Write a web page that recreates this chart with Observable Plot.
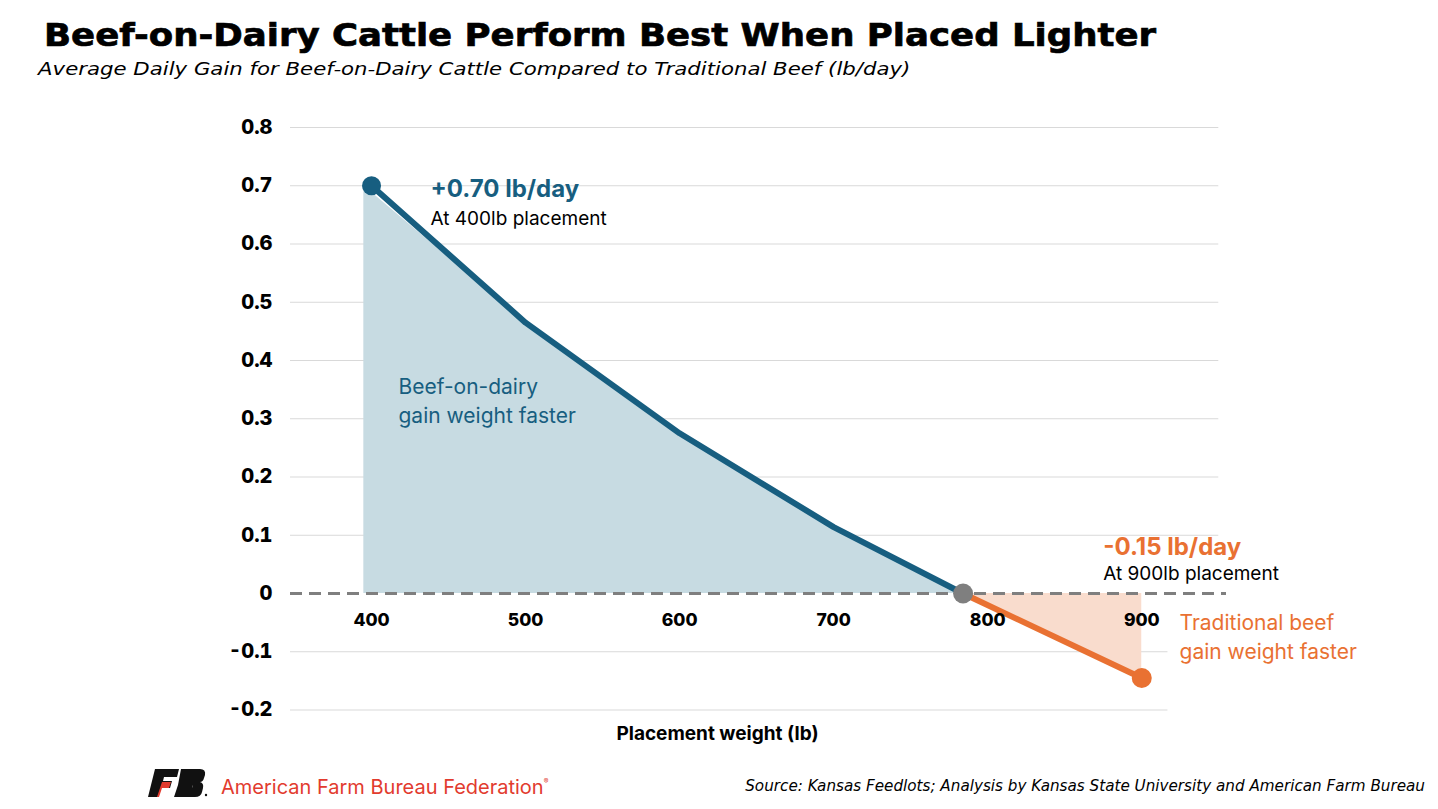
<!DOCTYPE html>
<html>
<head>
<meta charset="utf-8">
<script src="https://cdn.jsdelivr.net/npm/d3@7"></script>
<script src="https://cdn.jsdelivr.net/npm/@observablehq/plot@0.6"></script>
<style>
  body { margin:0; width:1438px; height:809px; overflow:hidden; background:#fff; font-family: Inter, "DejaVu Sans", sans-serif; }
  #head { position:relative; height:100px; }
  #title { position:absolute; left:44px; top:17px; font: bold 32px/36px "DejaVu Sans"; color:#000; white-space:nowrap; transform: scaleX(1.11); transform-origin: left top; -webkit-text-stroke: 0.7px #000; }
  #subtitle { position:absolute; left:38px; top:59px; font: oblique 17.5px "DejaVu Sans"; color:#000; white-space:nowrap; transform: scaleX(1.215); transform-origin: left top; }
  #chart { height:660px; }
  #foot { position:relative; height:49px; }
  #logo { position:absolute; left:148px; top:8px; }
  #org { position:absolute; left:221px; top:15px; font: 20px Inter, sans-serif; color:#e23b2e; white-space:nowrap; }
  #org sup { font-size:7px; vertical-align: 10px; }
  #source { position:absolute; right:13px; top:17px; font: oblique 15.2px "DejaVu Sans"; color:#000; white-space:nowrap; }
</style>
</head>
<body>
<div id="head">
  <div id="title">Beef-on-Dairy Cattle Perform Best When Placed Lighter</div>
  <div id="subtitle">Average Daily Gain for Beef-on-Dairy Cattle Compared to Traditional Beef (lb/day)</div>
</div>
<div id="chart"></div>
<div id="foot">
  <svg id="logo" width="60" height="30" viewBox="0 0 60 30">
    <polygon points="7,1 31,1 29,9 16,9 15,13 24,13 22,20 13,20 10,29 0,29" fill="#111"/>
    <polygon points="14,14 23,14 21,20 14,20 11,29 9,29" fill="#e23b2e"/>
    <path d="M33,1 L52,1 Q58,1 57,7 L56,10 Q55,14 52,14 Q56,15 55,20 L54,24 Q53,29 47,29 L26,29 L29,20 L44,20 L45,17 L30,17 Z" fill="#111"/>
    <polygon points="30,17 45,17 44,20 29,20" fill="#111"/>
    <circle cx="58" cy="27" r="1.2" fill="#111"/>
  </svg>
  <div id="org">American Farm Bureau Federation<sup>®</sup></div>
  <div id="source">Source: Kansas Feedlots; Analysis by Kansas State University and American Farm Bureau</div>
</div>
<script>
// ---- data ----
const xTicks = [400, 500, 600, 700, 800, 900];
const xTickLabels = ["400", "500", "600", "700", "800", "900"];
const yTicks = [-0.2, -0.1, 0, 0.1, 0.2, 0.3, 0.4, 0.5, 0.6, 0.7, 0.8];
const yTickLabels = ["-0.2", "-0.1", "0", "0.1", "0.2", "0.3", "0.4", "0.5", "0.6", "0.7", "0.8"];
const bodWeights = [400, 500, 600, 700, 784];
const bodGain = [0.70, 0.465, 0.275, 0.114, 0];
const bodAreaWeights = [395, 500, 600, 700, 784];
const tradWeights = [784, 900];
const tradGain = [0, -0.145];
const crossWeight = [784];
const crossGain = [0];
const xLabel = "Placement weight (lb)";

const BLUE = "#175e80", BLUE_FILL = "#c7dbe2";
const ORANGE = "#e97132", ORANGE_FILL = "#f9dccd";
const GRAY = "#7f7f7f";

const xMin = 347.4, xMax = 955, gridEnd = 950, gridEndNeg = 917;

const bod = bodWeights.map((w, i) => ({w, g: bodGain[i]}));
const bodArea = bodAreaWeights.map((w, i) => ({w, g: bodGain[i]}));
const trad = tradWeights.map((w, i) => ({w, g: tradGain[i]}));
const gridPos = yTicks.filter(d => d > 0);
const gridNeg = yTicks.filter(d => d < 0);

const chart = Plot.plot({
  width: 1438,
  height: 660,
  marginLeft: 290,
  marginRight: 212,
  marginTop: 27,
  marginBottom: 50.5,
  style: {fontFamily: "Inter, sans-serif", overflow: "visible", background: "transparent"},
  x: {domain: [xMin, xMax], axis: null},
  y: {domain: [-0.2, 0.8], axis: null},
  marks: [
    Plot.ruleY(gridPos, {x1: xMin, x2: gridEnd, stroke: "#d9d9d9", strokeWidth: 1}),
    Plot.ruleY(gridNeg, {x1: xMin, x2: gridEndNeg, stroke: "#d9d9d9", strokeWidth: 1}),
    Plot.areaY(bodArea, {x: "w", y1: 0, y2: "g", fill: BLUE_FILL}),
    Plot.areaY(trad, {x: "w", y1: 0, y2: "g", fill: ORANGE_FILL}),
    Plot.ruleY([0], {x1: xMin, x2: xMax, stroke: GRAY, strokeWidth: 3, strokeDasharray: "12,7"}),
    Plot.line(bod, {x: "w", y: "g", stroke: BLUE, strokeWidth: 6, strokeLinejoin: "round"}),
    Plot.line(trad, {x: "w", y: "g", stroke: ORANGE, strokeWidth: 6}),
    Plot.dot([bod[0]], {x: "w", y: "g", r: 9.5, fill: BLUE}),
    Plot.dot(trad.slice(1), {x: "w", y: "g", r: 10, fill: ORANGE}),
    Plot.dot(crossWeight.map((w, i) => ({w, g: crossGain[i]})), {x: "w", y: "g", r: 10, fill: GRAY}),
    Plot.axisY(yTicks, {tickSize: 0, tickPadding: 18, tickFormat: d => yTickLabels[yTicks.indexOf(d)], fontSize: 20, fontWeight: 800, fill: "#000", label: null}),
    Plot.text(xTicks, {x: d => d, y: 0, text: (d, i) => xTickLabels[i], dy: 27, fontSize: 17.5, fontWeight: 800, fill: "#000"}),
    Plot.text([xLabel], {frameAnchor: "bottom", lineAnchor: "middle", dx: -41, dy: 23.5, text: d => d, fontSize: 19, fontWeight: 700, fill: "#000"}),
    // annotations
    Plot.text(["+0.70 lb/day"], {x: 438.3, y: 0.6936, text: d => d, textAnchor: "start", fontSize: 24, fontWeight: 700, fill: BLUE}),
    Plot.text(["At 400lb placement"], {x: 438.3, y: 0.6438, text: d => d, textAnchor: "start", fontSize: 19, fill: "#000"}),
    Plot.text(["Beef-on-dairy", "gain weight faster"], {x: 417.5, y: (d, i) => [0.3536, 0.3039][i], text: d => d, textAnchor: "start", fontSize: 21, fill: BLUE}),
    Plot.text(["-0.15 lb/day"], {x: 875.0, y: 0.0790, text: d => d, textAnchor: "start", fontSize: 24, fontWeight: 700, fill: ORANGE}),
    Plot.text(["At 900lb placement"], {x: 875.0, y: 0.0343, text: d => d, textAnchor: "start", fontSize: 19, fill: "#000"}),
    Plot.text(["Traditional beef", "gain weight faster"], {x: 924.5, y: (d, i) => [-0.0515, -0.1013][i], text: d => d, textAnchor: "start", fontSize: 21, fill: ORANGE})
  ]
});
document.getElementById("chart").appendChild(chart);
</script>
</body>
</html>
